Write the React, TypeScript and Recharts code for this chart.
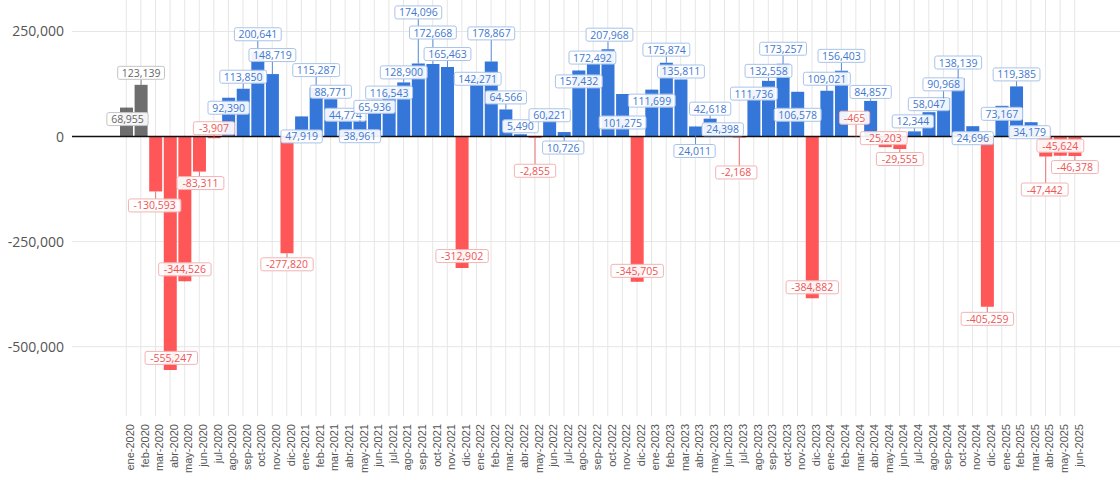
import React from 'react';
import { BarChart, Bar, Cell, XAxis, YAxis, ReferenceLine, LabelList } from 'recharts';

// monthly net change, ene-2020 .. jun-2025
const months = [
  'ene-2020', 'feb-2020', 'mar-2020', 'abr-2020', 'may-2020', 'jun-2020', 'jul-2020', 'ago-2020', 'sep-2020', 'oct-2020', 'nov-2020', 'dic-2020',
  'ene-2021', 'feb-2021', 'mar-2021', 'abr-2021', 'may-2021', 'jun-2021', 'jul-2021', 'ago-2021', 'sep-2021', 'oct-2021', 'nov-2021', 'dic-2021',
  'ene-2022', 'feb-2022', 'mar-2022', 'abr-2022', 'may-2022', 'jun-2022', 'jul-2022', 'ago-2022', 'sep-2022', 'oct-2022', 'nov-2022', 'dic-2022',
  'ene-2023', 'feb-2023', 'mar-2023', 'abr-2023', 'may-2023', 'jun-2023', 'jul-2023', 'ago-2023', 'sep-2023', 'oct-2023', 'nov-2023', 'dic-2023',
  'ene-2024', 'feb-2024', 'mar-2024', 'abr-2024', 'may-2024', 'jun-2024', 'jul-2024', 'ago-2024', 'sep-2024', 'oct-2024', 'nov-2024', 'dic-2024',
  'ene-2025', 'feb-2025', 'mar-2025', 'abr-2025', 'may-2025', 'jun-2025',
];

const netValues = [
  68955, 123139, -130593, -555247, -344526, -83311, -3907, 92390, 113850, 200641, 148719, -277820,
  47919, 115287, 88771, 44774, 38961, 65936, 116543, 128900, 174096, 172668, 165463, -312902,
  142271, 178867, 64566, 5490, -2855, 60221, 10726, 157432, 172492, 207968, 101275, -345705,
  111699, 175874, 135811, 24011, 42618, 24398, -2168, 111736, 132558, 173257, 106578, -384882,
  109021, 156403, -465, 84857, -25203, -29555, 12344, 58047, 90968, 138139, 24696, -405259,
  73167, 119385, 34179, -47442, -45624, -46378,
];

// months shown in grey (reference period)
const baseMonths = ['ene-2020', 'feb-2020'];

const yTicks = [-500000, -250000, 0, 250000];

// label box nudges [dx, dy] in px from the bar end, to keep labels apart
const labelNudge: [number, number][] = [
  [1, 11.5], [0, -12], [-1, 14], [1, -12], [0, -12], [1, 11.5], [0, -10], [0, 10], [0, -12], [0, -18], [0, -19], [0, 11],
  [0, 20], [0, -18], [0, -7.5], [0, -3], [0, 16], [0, -2], [0, 5], [0, -10], [0, -51], [0, -31.5], [0, -13], [0, -12],
  [1, 2], [0, -28], [0, -12], [0, -8], [0, 33], [0, 4], [-1, 15.5], [0, 11], [-1, -6.5], [1.5, -14.5], [0, 28.5], [0, -11],
  [0, 11], [0, -13], [0, -8], [-1, 24.5], [0, -10], [-2, 3], [-3, 35], [0, 4], [0, -10], [0, -15], [0, 23], [0, -11],
  [0, -12], [0, -15], [-1.5, -19], [0, -9], [-1.5, -9], [0, 10], [-1.5, -10], [0, -8], [0, -14], [0, -16], [0, 12], [0, 12],
  [0, 8], [0, -12], [-1.5, 10], [-1, 33], [0, -10], [0, 11],
];

const data = months.map((month, i) => ({ month, value: netValues[i] }));

const GREY = '#6e6e6e';
const BLUE = '#3577d9';
const RED = '#ff5757';
const GRID = '#e6e6e6';

function palette(i: number, v: number) {
  if (baseMonths.includes(months[i])) return { text: '#666', border: '#c4c4c4' };
  if (v >= 0) return { text: '#3f78d0', border: '#a9c3ec' };
  return { text: '#ee5555', border: '#f4b3b3' };
}

const fmt = (v: number) => v.toLocaleString('en-US');

function ValueLabel(props: any) {
  const { x, y, width, height, value } = props;
  let index = props.index;
  if (index == null) index = netValues.indexOf(value);
  const v = Number(value);
  const top = Math.min(y, y + height);
  const bottom = Math.max(y, y + height);
  const end = v >= 0 ? top : bottom;
  const [dx, dy] = labelNudge[index] || [0, v >= 0 ? -10 : 10];
  const cx = x + width / 2 + dx;
  const cy = end + dy;
  const text = fmt(v);
  const w = text.length * 5.55 + 8;
  const h = 13;
  const c = palette(index, v);
  let leader = null;
  if (Math.abs(dy) > 8) {
    const edge = dy > 0 ? cy - h / 2 : cy + h / 2;
    leader = <line x1={x + width / 2} x2={x + width / 2} y1={end} y2={edge} stroke={c.text} strokeOpacity={0.8} strokeWidth={1} />;
  }
  return (
    <g>
      {leader}
      <rect x={cx - w / 2} y={cy - h / 2} width={w} height={h} rx={2} fill="#fff" fillOpacity={0.92} stroke={c.border} strokeWidth={1} />
      <text x={cx} y={cy} textAnchor="middle" dominantBaseline="central" fontSize={10.5} fontWeight={500} fontFamily="'Open Sans', sans-serif" fill={c.text}>
        {text}
      </text>
    </g>
  );
}

const under = { zIndex: -100 } as any;

export default function App() {
  return (
    <div style={{ position: 'absolute', left: 0, top: 0, width: 1120, height: 480, background: '#fff' }}>
      <BarChart width={1120} height={480} data={data} margin={{ top: 0, right: 0, bottom: 0, left: 0 }} barCategoryGap={1}>
        <XAxis
          dataKey="month"
          interval={0}
          height={64}
          padding={{ left: 47, right: 38 }}
          tickLine={false}
          axisLine={false}
          angle={-90}
          textAnchor="end"
          tick={{ fontSize: 11, fill: '#555', fontFamily: 'Arial, "Liberation Sans", sans-serif' }}
        />
        <YAxis
          width={72}
          domain={[-665000, 325000]}
          ticks={yTicks}
          allowDataOverflow
          tickLine={false}
          axisLine={false}
          tickFormatter={fmt}
          tick={{ fontSize: 14, fill: '#555', fontFamily: "'Open Sans', sans-serif" }}
        />
        {/* grid: one line per month, one per y tick */}
        {months.map((m) => (
          <ReferenceLine key={'v' + m} x={m} stroke={GRID} strokeWidth={1} {...under} />
        ))}
        {yTicks.filter((t) => t !== 0).map((t) => (
          <ReferenceLine key={'h' + t} y={t} stroke={GRID} strokeWidth={1} {...under} />
        ))}
        <Bar dataKey="value" isAnimationActive={false}>
          {data.map((d) => (
            <Cell key={d.month} fill={baseMonths.includes(d.month) ? GREY : d.value >= 0 ? BLUE : RED} />
          ))}
          <LabelList dataKey="value" content={ValueLabel} />
        </Bar>
        <ReferenceLine y={0} stroke="#111" strokeWidth={1.5} {...({ zIndex: 350 } as any)} />
      </BarChart>
    </div>
  );
}
